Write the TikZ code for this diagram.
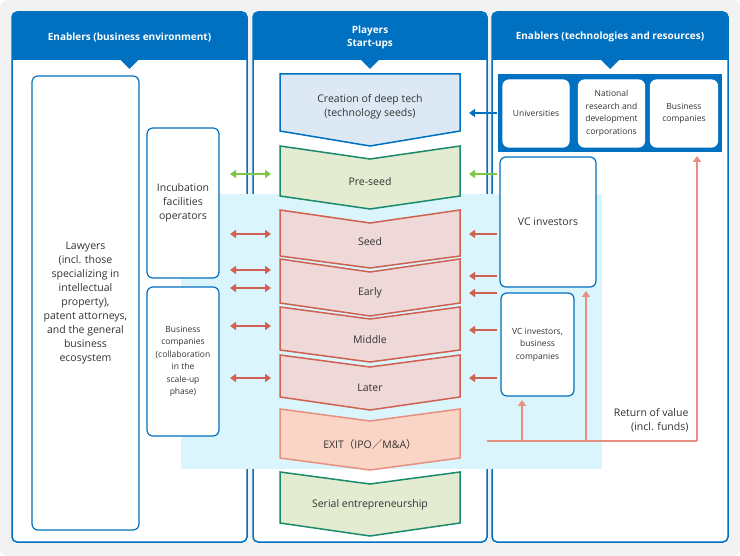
\documentclass[tikz,border=0pt]{standalone}
\usepackage{fontspec}
\setmainfont{Open Sans}
\newfontfamily\cjk{Noto Sans CJK JP}
\usetikzlibrary{arrows.meta}
\definecolor{bl}{HTML}{0070C0}
\definecolor{cy}{HTML}{DAF5FC}
\definecolor{dtf}{HTML}{DCE9F5}
\definecolor{psf}{HTML}{E3EBD1}
\definecolor{psd}{HTML}{1A8A6A}
\definecolor{rf}{HTML}{EED8D8}
\definecolor{rd}{HTML}{D06050}
\definecolor{ef}{HTML}{FAD5C5}
\definecolor{ed}{HTML}{E89080}
\definecolor{gr}{HTML}{7DC842}
\definecolor{tx}{HTML}{333333}
\begin{document}
\begin{tikzpicture}[x=1pt,y=-1pt,
 panel/.style={draw=bl,line width=1.5pt,rounded corners=5pt,fill=white},
 hdr/.style={text=white,font=\bfseries\fontsize{10}{13}\selectfont,align=center},
 wbox/.style={draw=bl,line width=1.2pt,rounded corners=6pt,fill=white,text=tx,align=center},
 lab/.style={text=tx,align=center,font=\fontsize{10.5}{14}\selectfont},
 sm/.style={text=tx,align=center,font=\fontsize{8.5}{12.5}\selectfont},
 arr/.style={-{Triangle[length=6pt,width=8pt]},line width=2pt},
 darr/.style={{Triangle[length=6pt,width=8pt]}-{Triangle[length=6pt,width=8pt]},line width=2pt},
 ret/.style={draw=ed,line width=2.5pt}]
\fill[gray!10,rounded corners=8pt] (0,0) rectangle (740,556);
\useasboundingbox (0,0) rectangle (740,556);
% panels
\foreach \a/\b in {12/247,253/487,492/728}{
 \draw[panel] (\a,12) rectangle (\b,542);
 \fill[bl,rounded corners=5pt] (\a,12) rectangle (\b,60);
 \fill[bl] (\a,40) rectangle (\b,60);
 \fill[bl] ({(\a+\b)/2-9},60) -- ({(\a+\b)/2+9},60) -- ({(\a+\b)/2},69) -- cycle;
}
\node[hdr] (h1) at (129.5,37) {Enablers (business environment)};
\node[hdr] (h2) at (370,37) {Players\\Start-ups};
\node[hdr] (h3) at (610,37) {Enablers (technologies and resources)};
% cyan region
\fill[cy] (181,194) rectangle (602,469);
% left boxes
\node[wbox,minimum width=107pt,minimum height=454pt] (law) at (85.5,303) {};
\node[lab] at (law) {Lawyers\\(incl. those\\specializing in\\intellectual\\property),\\patent attorneys,\\and the general\\business\\ecosystem};
\node[wbox,minimum width=72pt,minimum height=150pt,lab] (inc) at (183,203) {Incubation\\facilities\\operators};
\node[wbox,minimum width=72pt,minimum height=149pt,sm] (bc) at (183,361.5) {Business\\companies\\(collaboration\\in the\\scale-up\\phase)};
% chevrons
\newcommand{\chev}[6]{%
 \draw[fill=#5,draw=#6,line width=1.5pt] (280,#1) -- (370,#2) -- (460,#1) -- (460,#3) -- (370,#4) -- (280,#3) -- cycle;
}
\draw[fill=dtf,draw=bl,line width=1.5pt] (280,74) -- (460,74) -- (460,131) -- (370,146) -- (280,131) -- cycle;
\node[lab] (dt) at (370,107) {Creation of deep tech\\(technology seeds)};
\chev{146}{159}{196}{209}{psf}{psd}
\node[lab] (ps) at (370,182) {Pre-seed};
\chev{210}{223}{256}{268}{rf}{rd}
\node[lab] (sd) at (370,242) {Seed};
\chev{259}{272}{303}{316}{rf}{rd}
\node[lab] (ea) at (370,293) {Early};
\chev{307}{319}{350}{362}{rf}{rd}
\node[lab] (mi) at (370,340) {Middle};
\chev{355}{367}{397}{410}{rf}{rd}
\node[lab] (la) at (370,388) {Later};
\chev{409}{421}{458}{470}{ef}{ed}
\node[lab] (ex) at (370,445) {EXIT{\cjk（}IPO{\cjk／}M\&A{\cjk）}};
\chev{472}{484}{523}{536}{psf}{psd}
\node[lab] (se) at (370,505) {Serial entrepreneurship};
% right
\fill[bl] (498,74) rectangle (722,152);
\node[wbox,draw=white,minimum width=66pt,minimum height=67pt,sm] (uni) at (536,113.5) {Universities};
\node[wbox,draw=white,minimum width=66pt,minimum height=67pt,sm] (nat) at (611.5,113.5) {National\\research and\\development\\corporations};
\node[wbox,draw=white,minimum width=67pt,minimum height=67pt,sm] (bus) at (684,113.5) {Business\\companies};
\node[wbox,minimum width=96pt,minimum height=130pt,lab] (vc) at (548,222) {VC investors};
\node[wbox,minimum width=73pt,minimum height=103pt,sm] (vcb) at (537.5,344.5) {VC investors,\\business\\companies};
% arrows
\coordinate (r0) at (497,113); \coordinate (e0) at (469,113);
\draw[arr,bl] (r0) -- (e0);
\coordinate (gl1) at (230,174); \coordinate (gl2) at (271,174);
\draw[darr,gr] (gl1) -- (gl2);
\coordinate (gr1) at (497,174); \coordinate (gr2) at (469,174);
\draw[arr,gr] (gr1) -- (gr2);
\foreach \y in {234,270,288,326,378}{
 \coordinate (a\y) at (230,\y); \coordinate (b\y) at (271,\y);
 \draw[darr,rd] (a\y) -- (b\y);}
\foreach \y in {234,276,293,330,378}{
 \coordinate (c\y) at (497,\y); \coordinate (d\y) at (469,\y);
 \draw[arr,rd] (c\y) -- (d\y);}
% return of value
\coordinate (rs) at (487,441); \coordinate (rc) at (697,441);
\coordinate (b1) at (522,441); \coordinate (b2) at (586,441);
\draw[ret] (rs) -- (rc);
\draw[ret,arr] (rc) -- (697,156);
\draw[ret,arr] (b1) -- (522,400);
\draw[ret,arr] (b2) -- (586,291);
\node[lab,align=right,anchor=east] (rv) at (692,420) {Return of value\\(incl. funds)};
\end{tikzpicture}
\end{document}
